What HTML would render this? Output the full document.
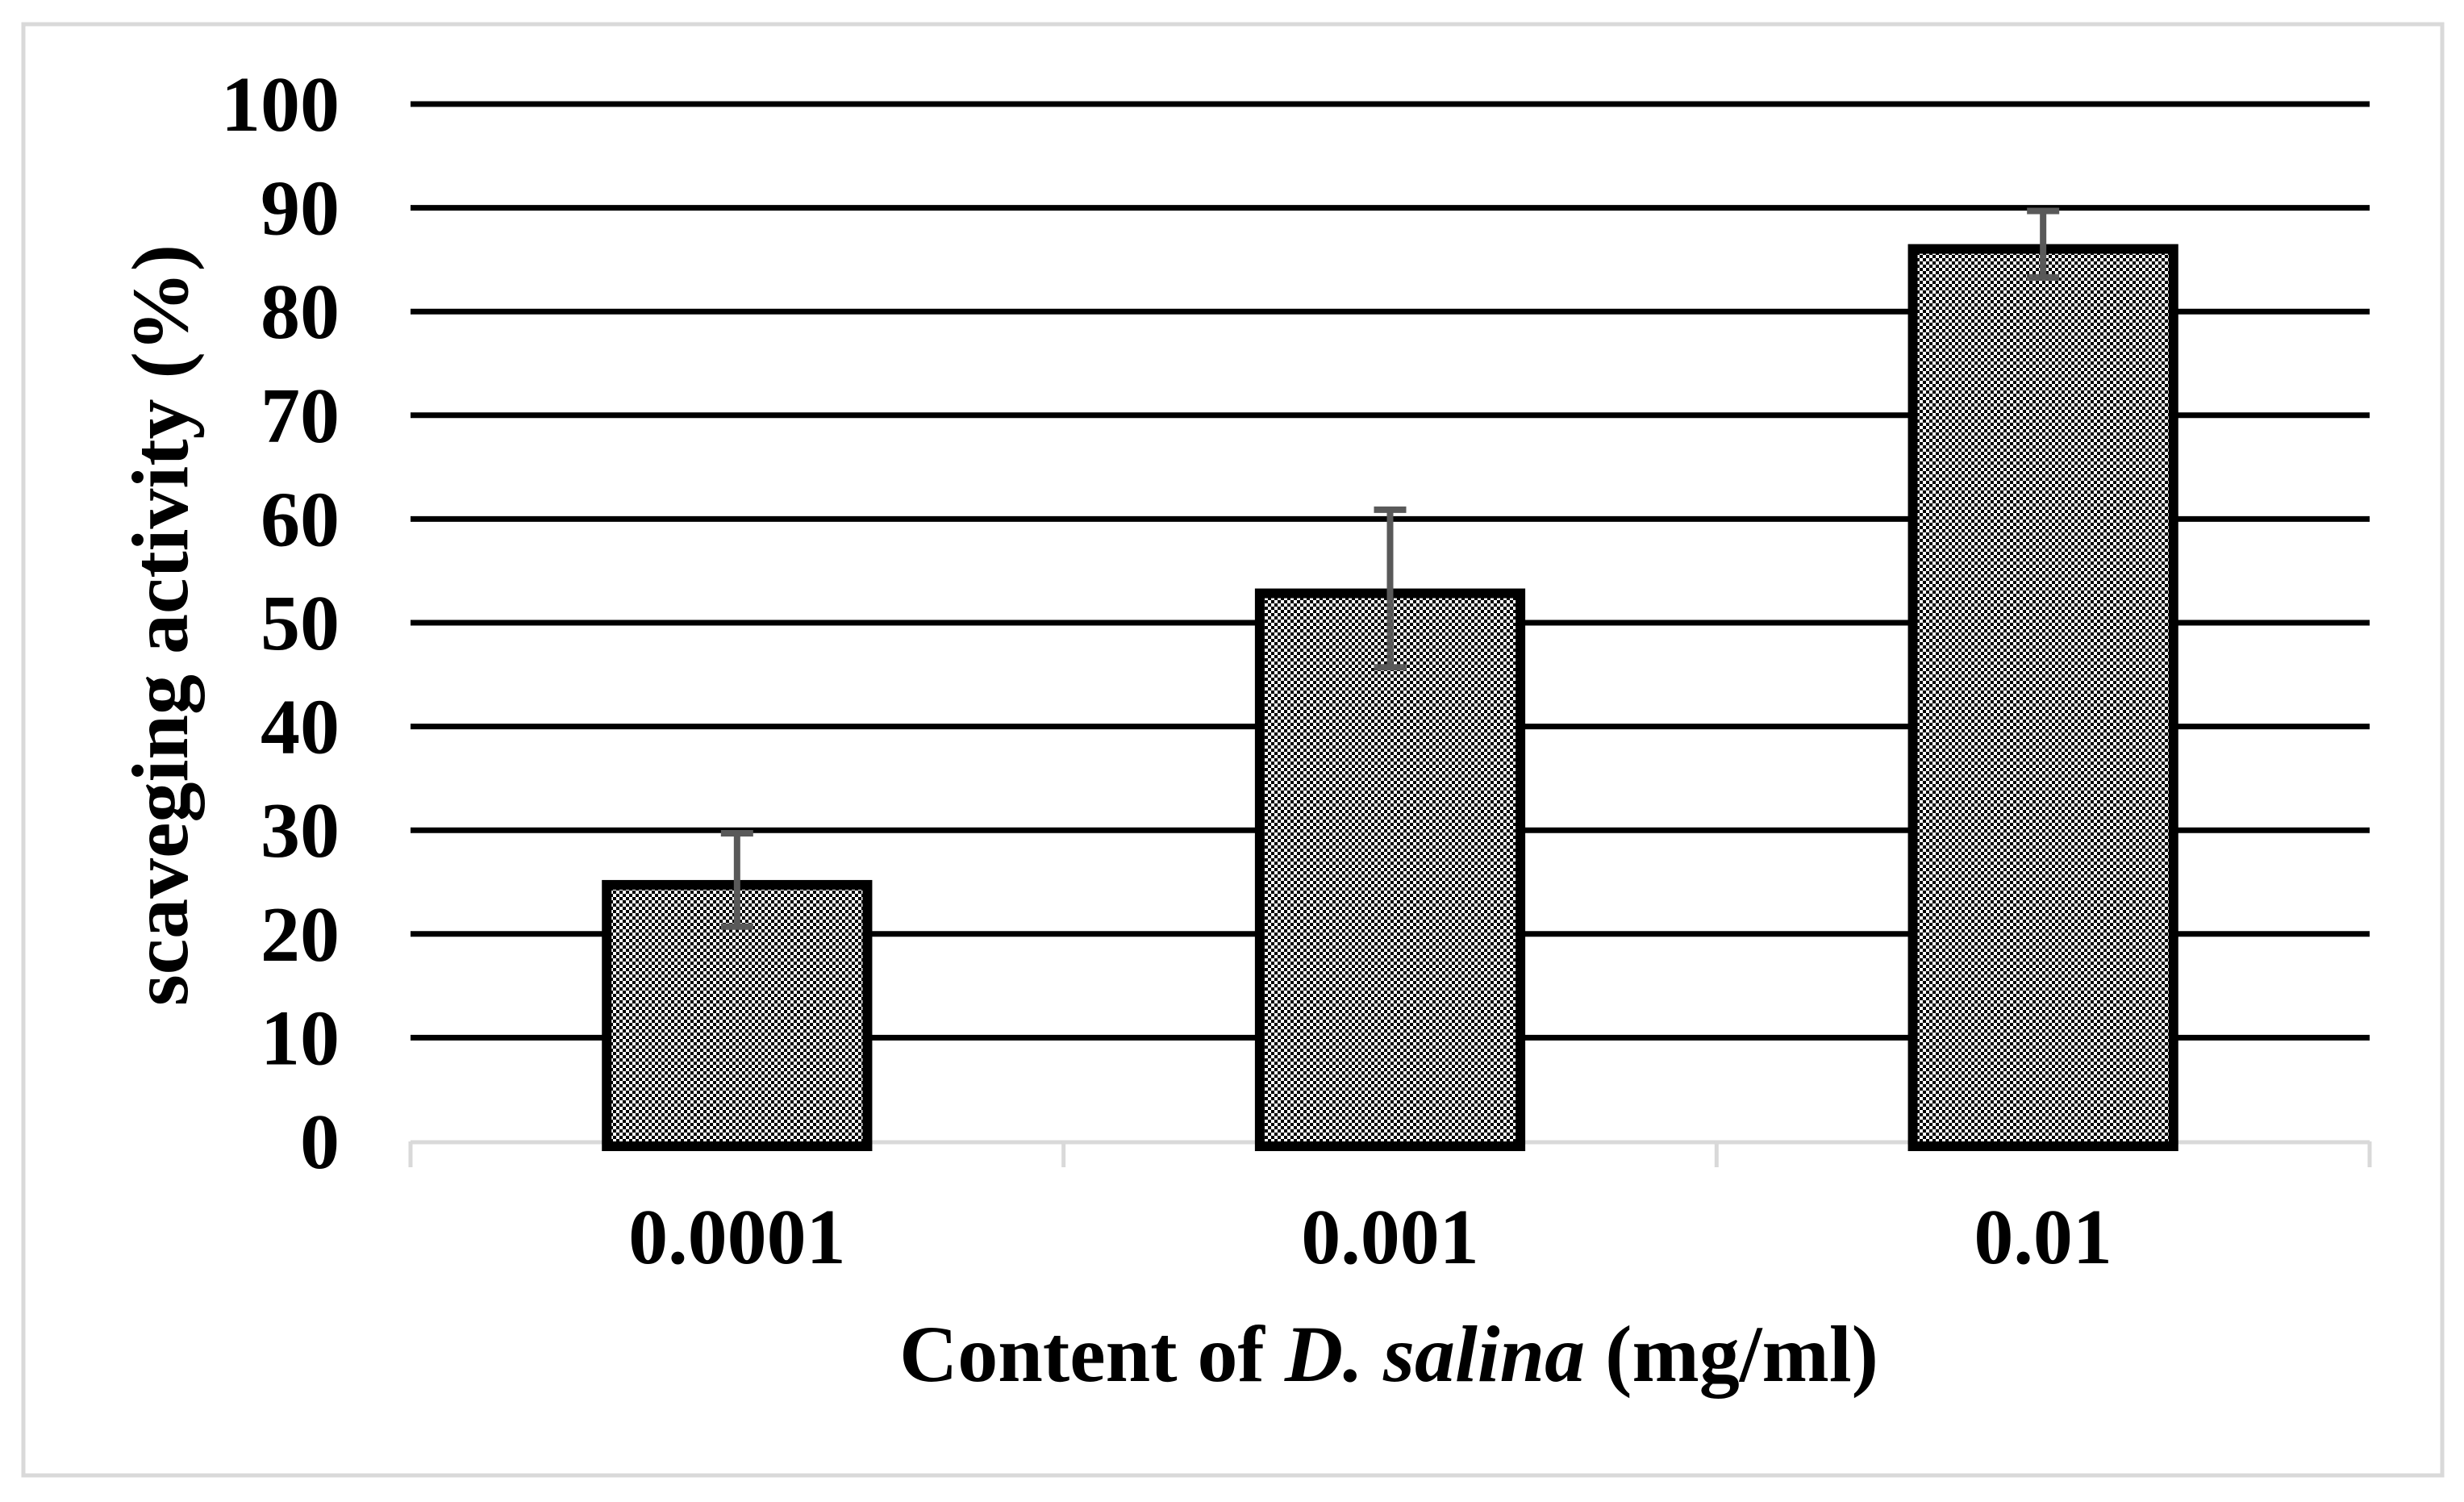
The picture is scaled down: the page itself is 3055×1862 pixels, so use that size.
<!DOCTYPE html>
<html>
<head>
<meta charset="utf-8">
<style>
  html, body { margin: 0; padding: 0; background: #fff; }
  body { width: 3055px; height: 1857px; overflow: hidden; }
  svg text { font-family: "Liberation Serif", "Times New Roman", serif; font-weight: bold; fill: #000; }
</style>
</head>
<body>
<svg id="chart" width="3055" height="1857" viewBox="0 0 3055 1857" xmlns="http://www.w3.org/2000/svg">
  <defs>
    <pattern id="checker" patternUnits="userSpaceOnUse" width="8" height="8">
      <rect width="8" height="8" fill="#fff"/>
      <rect width="4" height="4" fill="#000"/>
      <rect x="4" y="4" width="4" height="4" fill="#000"/>
    </pattern>
  </defs>
  <rect x="29" y="30" width="2999" height="1799" fill="#fff" stroke="#d9d9d9" stroke-width="5"/>
  <g id="grid"></g>
  <g id="axis"></g>
  <g id="bars"></g>
  <g id="errs"></g>
  <g id="ylabels"></g>
  <g id="xlabels"></g>
  <text x="0" y="0" font-size="100" text-anchor="middle" transform="translate(232,775) rotate(-90)">scaveging activity (%)</text>
  <text x="1722" y="1712" font-size="100" text-anchor="middle">Content of <tspan font-style="italic">D. salina</tspan> (mg/ml)</text>
</svg>
<script>
const categories = ["0.0001", "0.001", "0.01"];
const values = [25.2, 53.3, 86.5];
const errors = [4.5, 7.6, 3.2];
const yTicks = [0, 10, 20, 30, 40, 50, 60, 70, 80, 90, 100];

const NS = "http://www.w3.org/2000/svg";
const X0 = 509, X1 = 2938, Y0 = 1415, Y100 = 129;
const bandW = (X1 - X0) / categories.length;
const barW = 0.414 * bandW;
function y(v) { return Y0 - (v / 100) * (Y0 - Y100); }
function xc(i) { return X0 + bandW * (i + 0.5); }
function mk(tag, attrs, parent) {
  const e = document.createElementNS(NS, tag);
  for (const k in attrs) e.setAttribute(k, attrs[k]);
  parent.appendChild(e);
  return e;
}
const grid = document.getElementById('grid');
const axis = document.getElementById('axis');
const bars = document.getElementById('bars');
const errs = document.getElementById('errs');
const ylab = document.getElementById('ylabels');
const xlab = document.getElementById('xlabels');

yTicks.forEach(t => {
  if (t > 0) {
    const l = mk('line', {x1: X0, x2: X1, y1: y(t), y2: y(t), stroke: '#000', 'stroke-width': 7}, grid);
    
    
  }
  const tx = mk('text', {x: 421, y: y(t) + 33, 'font-size': 98, 'text-anchor': 'end'}, ylab);
  tx.textContent = String(t);
  
  
});

const base = mk('line', {x1: X0, x2: X1, y1: Y0 + 1, y2: Y0 + 1, stroke: '#d9d9d9', 'stroke-width': 5}, axis);


for (let i = 0; i <= categories.length; i++) {
  const xx = X0 + bandW * i;
  const tk = mk('line', {x1: xx, x2: xx, y1: Y0, y2: Y0 + 32, stroke: '#d9d9d9', 'stroke-width': 5}, axis);
  
  
}

categories.forEach((c, i) => {
  const top = y(values[i]);
  const r = mk('rect', {x: xc(i) - barW / 2 + 6, y: top + 6, width: barW - 12, height: Y0 + 6 - top - 6, fill: 'url(#checker)', stroke: '#000', 'stroke-width': 12}, bars);
  
  

  const hi = y(values[i] + errors[i]), lo = y(values[i] - errors[i]);
  const g = mk('g', {}, errs);
  
  
  mk('line', {x1: xc(i), x2: xc(i), y1: hi, y2: lo, stroke: '#595959', 'stroke-width': 8}, g);
  mk('line', {x1: xc(i) - 20, x2: xc(i) + 20, y1: hi, y2: hi, stroke: '#595959', 'stroke-width': 8}, g);
  mk('line', {x1: xc(i) - 20, x2: xc(i) + 20, y1: lo, y2: lo, stroke: '#595959', 'stroke-width': 8}, g);

  const t = mk('text', {x: xc(i), y: 1566, 'font-size': 98, 'text-anchor': 'middle'}, xlab);
  t.textContent = c;
  
  
});
</script>
</body>
</html>
